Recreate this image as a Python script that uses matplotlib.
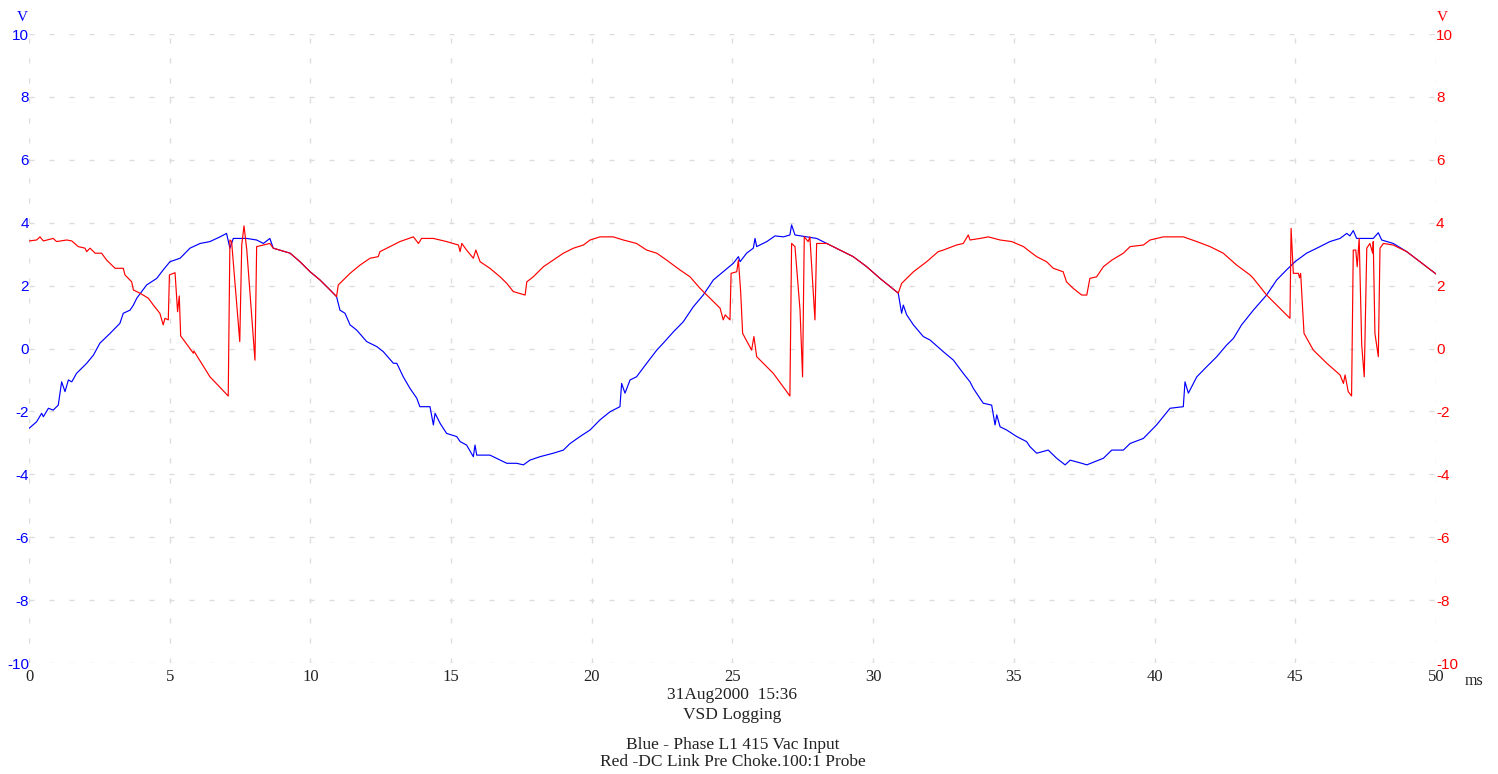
import matplotlib
matplotlib.use("Agg")
import matplotlib.pyplot as plt

# values (ms, V)
blue_t = [0.00, 0.27, 0.45, 0.51, 0.69, 0.86, 1.04, 1.16, 1.28, 1.40, 1.52, 1.69, 2.05, 2.29, 2.52,
          2.88, 3.23, 3.35, 3.59, 3.71, 3.83, 4.18, 4.54, 4.77, 5.01, 5.37, 5.72, 6.08, 6.43, 6.79,
          7.02, 7.14, 7.26, 7.74, 8.09, 8.33, 8.56, 8.68, 9.28, 9.63, 9.99, 10.34, 10.70, 10.93,
          11.05, 11.23, 11.41, 11.64, 12.00, 12.36, 12.59, 12.95, 13.07, 13.30, 13.54, 13.78,
          13.89, 14.25, 14.37, 14.43, 14.61, 14.84, 15.20, 15.32, 15.55, 15.79, 15.85, 15.91,
          16.38, 16.98, 17.33, 17.57, 17.80, 18.16, 18.63, 18.99, 19.23, 19.58, 19.94, 20.29,
          20.65, 21.00, 21.06, 21.18, 21.36, 21.59, 21.95, 22.31, 22.54, 22.90, 23.25, 23.61,
          23.96, 24.32, 24.67, 25.03, 25.21, 25.27, 25.50, 25.74, 25.80, 25.86, 26.22, 26.51,
          26.81, 27.04, 27.10, 27.22, 27.64, 27.99, 28.35, 28.82, 29.29, 29.77, 30.24, 30.60,
          30.89, 31.01, 31.07, 31.19, 31.43, 31.78, 32.02, 32.49, 32.85, 33.20, 33.44, 33.56,
          33.91, 34.21, 34.33, 34.39, 34.51, 34.74, 35.10, 35.45, 35.57, 35.81, 36.22, 36.52,
          36.82, 37.00, 37.41, 37.59, 38.18, 38.48, 38.89, 39.13, 39.60, 40.07, 40.55, 41.02,
          41.08, 41.20, 41.50, 41.85, 42.21, 42.56, 42.80, 43.09, 43.51, 43.98, 44.34, 44.69,
          44.99, 45.40, 45.88, 46.23, 46.59, 46.83, 46.94, 47.06, 47.18, 47.77, 47.95, 48.07,
          48.48, 48.96, 49.43, 50.00]
blue_v = [-2.54, -2.33, -2.06, -2.17, -1.90, -1.96, -1.80, -1.06, -1.37, -1.00, -1.06, -0.79, -0.47,
          -0.21, 0.17, 0.48, 0.80, 1.12, 1.22, 1.38, 1.60, 2.02, 2.23, 2.50, 2.76, 2.87, 3.19, 3.34,
          3.40, 3.55, 3.66, 3.19, 3.50, 3.50, 3.45, 3.34, 3.50, 3.19, 3.03, 2.76, 2.44, 2.18, 1.86,
          1.65, 1.22, 1.12, 0.75, 0.59, 0.22, 0.06, -0.10, -0.47, -0.47, -0.90, -1.27, -1.58,
          -1.85, -1.85, -2.43, -2.06, -2.38, -2.70, -2.80, -2.96, -3.07, -3.44, -3.07, -3.39,
          -3.39, -3.65, -3.65, -3.70, -3.55, -3.44, -3.33, -3.23, -3.02, -2.80, -2.59, -2.27,
          -2.01, -1.85, -1.11, -1.42, -1.00, -0.90, -0.47, -0.05, 0.17, 0.53, 0.85, 1.33,
          1.70, 2.18, 2.44, 2.71, 2.92, 2.76, 3.03, 3.19, 3.50, 3.24, 3.40, 3.58,
          3.55, 3.61, 3.93, 3.61, 3.55, 3.50, 3.34, 3.13, 2.92, 2.60, 2.23, 1.97,
          1.76, 1.12, 1.38, 1.07, 0.75, 0.38, 0.27, -0.10, -0.37, -0.79, -1.06, -1.27,
          -1.74, -1.80, -2.43, -2.11, -2.49, -2.59, -2.80, -2.96, -3.12, -3.33, -3.23, -3.49,
          -3.70, -3.55, -3.65, -3.70, -3.49, -3.23, -3.23, -3.02, -2.86, -2.43, -1.90, -1.85,
          -1.06, -1.42, -0.90, -0.58, -0.26, 0.11, 0.32, 0.75, 1.22, 1.70, 2.18, 2.50,
          2.76, 3.03, 3.24, 3.40, 3.50, 3.66, 3.58, 3.75, 3.50, 3.50, 3.68, 3.45,
          3.34, 3.08, 2.76, 2.37]

red_t = [0.00, 0.27, 0.39, 0.51, 0.86, 0.98, 1.34, 1.52, 1.75, 1.99, 2.05, 2.17, 2.35, 2.58, 2.76,
         3.06, 3.35, 3.41, 3.65, 3.71, 3.94, 4.24, 4.42, 4.65, 4.77, 4.83, 4.95, 4.99, 5.19, 5.28,
         5.34, 5.39, 5.84, 5.86, 6.43, 7.08, 7.14, 7.20, 7.49, 7.56, 7.64, 7.74, 8.03, 8.09, 8.33,
         8.56, 8.68, 9.28, 9.63, 9.99, 10.34, 10.70, 10.93, 10.99, 11.41, 11.76, 12.12, 12.41,
         12.47, 12.83, 13.18, 13.66, 13.84, 13.95, 14.37, 14.84, 15.26, 15.32, 15.38, 15.55,
         15.79, 15.88, 16.03, 16.38, 16.74, 16.98, 17.21, 17.63, 17.69, 17.92, 18.28, 18.63,
         18.99, 19.35, 19.70, 19.94, 20.29, 20.76, 21.12, 21.59, 21.95, 22.31, 22.66, 23.13,
         23.49, 23.85, 24.20, 24.56, 24.67, 24.74, 24.91, 24.95, 25.15, 25.21, 25.29, 25.36,
         25.68, 25.76, 25.86, 26.45, 27.04, 27.10, 27.22, 27.40, 27.49, 27.55, 27.69, 27.75,
         27.93, 27.99, 28.35, 28.82, 29.29, 29.77, 30.24, 30.60, 30.89, 31.01, 31.43, 31.90,
         32.31, 32.49, 32.96, 33.20, 33.38, 33.44, 33.80, 34.09, 34.51, 34.92, 35.34, 35.57,
         35.81, 36.16, 36.40, 36.75, 36.87, 37.11, 37.41, 37.59, 37.70, 37.94, 38.18, 38.48,
         38.89, 39.13, 39.60, 39.84, 40.31, 41.02, 41.50, 41.97, 42.44, 42.92, 43.39, 43.51,
         43.98, 44.34, 44.81, 44.85, 44.93, 45.11, 45.15, 45.19, 45.31, 45.64, 46.12, 46.59,
         46.71, 46.77, 46.88, 47.00, 47.06, 47.15, 47.20, 47.27, 47.36, 47.45, 47.54, 47.65,
         47.75, 47.77, 47.83, 47.95, 48.01, 48.13, 48.48, 48.96, 49.43, 50.00]
red_v = [3.42, 3.45, 3.55, 3.42, 3.50, 3.40, 3.45, 3.42, 3.24, 3.19, 3.08, 3.19, 3.03, 3.03, 2.81,
         2.55, 2.55, 2.34, 2.12, 1.86, 1.76, 1.60, 1.38, 1.12, 0.75, 0.96, 0.91, 2.34, 2.41, 1.17,
         1.67, 0.40, -0.15, -0.08, -0.90, -1.51, 3.45, 3.40, 0.22, 3.29, 3.90, 3.13, -0.37, 3.24, 3.29,
         3.34, 3.19, 3.03, 2.76, 2.44, 2.18, 1.86, 1.65, 2.02, 2.39, 2.65, 2.87, 2.92,
         3.08, 3.24, 3.40, 3.55, 3.34, 3.50, 3.50, 3.40, 3.29, 3.08, 3.34, 3.13,
         2.87, 3.13, 2.76, 2.55, 2.28, 2.07, 1.81, 1.70, 2.12, 2.28, 2.60, 2.81,
         3.03, 3.19, 3.29, 3.45, 3.55, 3.55, 3.45, 3.34, 3.13, 3.03, 2.81, 2.50,
         2.28, 1.91, 1.60, 1.28, 0.91, 1.07, 0.91, 2.39, 2.44, 2.81, 1.81, 0.48,
         -0.05, 0.38, -0.26, -0.79, -1.51, 3.34, 3.24, 1.22, -0.90, 3.55, 3.40, 3.55,
         0.91, 3.34, 3.34, 3.13, 2.92, 2.60, 2.23, 1.97, 1.76, 2.07, 2.44, 2.76,
         3.08, 3.13, 3.29, 3.34, 3.61, 3.45, 3.50, 3.55, 3.45, 3.40, 3.24, 3.08,
         2.92, 2.76, 2.55, 2.44, 2.12, 1.91, 1.70, 1.70, 2.23, 2.28, 2.60, 2.81,
         3.03, 3.24, 3.29, 3.45, 3.55, 3.55, 3.40, 3.24, 3.03, 2.65, 2.34, 2.23,
         1.70, 1.38, 0.96, 3.82, 2.39, 2.39, 2.25, 2.39, 0.48, -0.05, -0.47, -0.84,
         -1.11, -0.84, -1.37, -1.51, 3.13, 3.13, 2.60, 3.50, 0.11, -0.90, 3.19, 3.34,
         3.03, 3.40, 0.48, -0.26, 3.19, 3.34, 3.29, 3.08, 2.76, 2.37]

x_ticks = [0, 5, 10, 15, 20, 25, 30, 35, 40, 45, 50]
y_ticks = [-10, -8, -6, -4, -2, 0, 2, 4, 6, 8, 10]
footer = ["31Aug2000  15:36", "VSD Logging", "Blue - Phase L1 415 Vac Input",
          "Red -DC Link Pre Choke.100:1 Probe"]

plt.rcParams['axes.unicode_minus'] = False
plt.rcParams['lines.scale_dashes'] = False
plt.rcParams['font.family'] = ['Liberation Sans', 'DejaVu Sans']
serif = ['Liberation Serif', 'DejaVu Serif']

fig = plt.figure(figsize=(14.98, 7.74), dpi=100)
ax = fig.add_axes([0.01936, 0.14341, 0.93925, 0.81266])
ax2 = ax.twinx()

grid_kw = dict(color='#dcdcdc', linewidth=1.0, linestyle=(0, (3.6, 10.8)))
ax.set_axisbelow(True)
ax.grid(True, **grid_kw)

ax.plot(blue_t, blue_v, color='blue', lw=0.85, zorder=3)
ax2.plot(red_t, red_v, color='red', lw=0.85, zorder=3)

for a in (ax, ax2):
    a.set_xlim(0, 50)
    a.set_ylim(-10, 10)
    a.set_yticks(y_ticks)
    for s in a.spines.values():
        s.set_visible(False)
ax.set_xticks(x_ticks)

ax.tick_params(axis='y', length=0, pad=0, labelsize=11, colors='blue')
ax2.tick_params(axis='y', length=0, pad=0, labelsize=11, colors='red')
ax.tick_params(axis='x', length=0, pad=4, labelsize=12, colors='#222222')
for lab in ax.get_xticklabels():
    lab.set_family(serif)

fig.text(22 / 1498, 1 - 17.5 / 774, 'V', color='blue', fontsize=11, family=serif,
         ha='center', va='center')
fig.text(1442 / 1498, 1 - 17.5 / 774, 'V', color='red', fontsize=11, family=serif,
         ha='center', va='center')
fig.text(1474 / 1498, 1 - 681 / 774, 'ms', color='#222222', fontsize=11.5, family=serif,
         ha='center', va='center')

xc = 0.01936 + 0.93925 / 2
for txt, y in zip(footer, [695, 715, 745, 762]):
    fig.text(xc, 1 - y / 774, txt, color='#222222', fontsize=12.5, family=serif,
             ha='center', va='center')

fig.savefig('out.png', dpi=100)
